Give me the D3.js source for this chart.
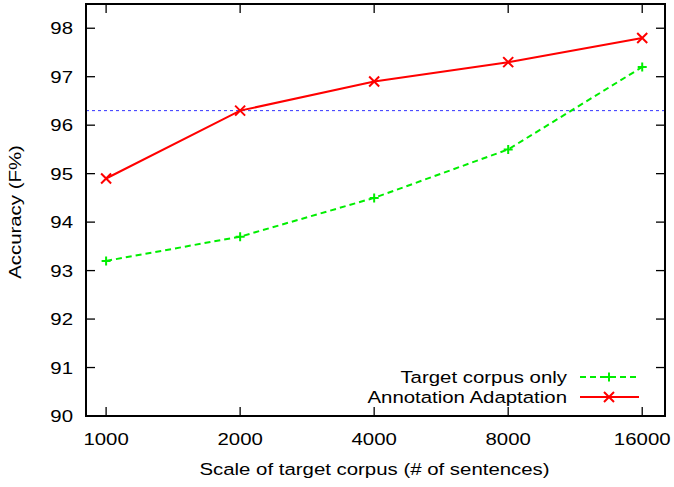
<!DOCTYPE html>
<html>
<head>
<meta charset="utf-8">
<script src="https://cdn.jsdelivr.net/npm/d3@7"></script>
<style>
  body { margin: 0; background: #fff; }
  text { font-family: "Liberation Sans", Arial, sans-serif; font-size: 17px; fill: #000; }
</style>
</head>
<body>
<div id="chart"></div>
<script>
const categories = ["1000", "2000", "4000", "8000", "16000"];
const targetOnly = [93.2, 93.7, 94.5, 95.5, 97.2];
const annotationAdaptation = [94.9, 96.3, 96.9, 97.3, 97.8];
const baseline = 96.3;
const yTicks = [90, 91, 92, 93, 94, 95, 96, 97, 98];

const width = 674, height = 487;
const margin = { top: 4, right: 9, bottom: 71, left: 86 };
const plotW = width - margin.left - margin.right;
const plotH = height - margin.top - margin.bottom;
const stretch = 1.2; // the source font is drawn wider than Arial

const svg = d3.select("#chart").append("svg")
    .attr("width", width)
    .attr("height", height);

const g = svg.append("g")
    .attr("transform", `translate(${margin.left},${margin.top})`);

const x = d3.scaleLinear().domain([-0.15, 4.17]).range([0, plotW]);
const y = d3.scaleLinear().domain([90, 98.5]).range([plotH, 0]);

// wide text helper
function label(sel, tx, ty, str, anchor, rot) {
    return sel.append("text")
        .attr("transform", `translate(${tx},${ty})${rot ? " rotate(" + rot + ")" : ""} scale(${stretch},1)`)
        .attr("text-anchor", anchor)
        .text(str);
}

const tickLen = 9;

yTicks.forEach(v => {
    g.append("line").attr("x1", 0).attr("x2", tickLen)
        .attr("y1", y(v)).attr("y2", y(v)).attr("stroke", "#000").attr("stroke-width", 1.3);
    g.append("line").attr("x1", plotW).attr("x2", plotW - tickLen)
        .attr("y1", y(v)).attr("y2", y(v)).attr("stroke", "#000").attr("stroke-width", 1.3);
    label(g, -13, y(v) + 6, v, "end");
});

categories.forEach((c, i) => {
    g.append("line").attr("x1", x(i)).attr("x2", x(i))
        .attr("y1", plotH).attr("y2", plotH - tickLen).attr("stroke", "#000").attr("stroke-width", 1.3);
    g.append("line").attr("x1", x(i)).attr("x2", x(i))
        .attr("y1", 0).attr("y2", tickLen).attr("stroke", "#000").attr("stroke-width", 1.3);
    label(g, x(i), 445 - margin.top, c, "middle");
});

// baseline
g.append("line")
    .attr("x1", 0).attr("x2", plotW)
    .attr("y1", y(baseline)).attr("y2", y(baseline))
    .attr("stroke", "#3333ff").attr("stroke-width", 1)
    .attr("stroke-dasharray", "3,3");

const line = d3.line().x((d, i) => x(i)).y(d => y(d));

g.append("path").datum(targetOnly)
    .attr("d", line).attr("fill", "none")
    .attr("stroke", "#00ee00").attr("stroke-width", 2)
    .attr("stroke-dasharray", "6,4");

g.append("path").datum(annotationAdaptation)
    .attr("d", line).attr("fill", "none")
    .attr("stroke", "#ff0000").attr("stroke-width", 2);

function plus(sel, cx, cy, color) {
    const s = 4.5;
    sel.append("path")
        .attr("d", `M${cx - s},${cy}H${cx + s}M${cx},${cy - s}V${cy + s}`)
        .attr("stroke", color).attr("stroke-width", 2).attr("fill", "none");
}
function cross(sel, cx, cy, color) {
    const s = 5;
    sel.append("path")
        .attr("d", `M${cx - s},${cy - s}L${cx + s},${cy + s}M${cx - s},${cy + s}L${cx + s},${cy - s}`)
        .attr("stroke", color).attr("stroke-width", 2).attr("fill", "none");
}

targetOnly.forEach((v, i) => plus(g, x(i), y(v), "#00ee00"));
annotationAdaptation.forEach((v, i) => cross(g, x(i), y(v), "#ff0000"));

// frame
g.append("rect").attr("x", 0).attr("y", 0).attr("width", plotW).attr("height", plotH)
    .attr("fill", "none").attr("stroke", "#000").attr("stroke-width", 2);

// legend
const legend = [
    { label: "Target corpus only", color: "#00ee00", dash: "6,4", mark: plus },
    { label: "Annotation Adaptation", color: "#ff0000", dash: null, mark: cross }
];
legend.forEach((d, i) => {
    const ly = 377 + i * 20 - margin.top;
    label(g, 567 - margin.left, ly + 6, d.label, "end");
    g.append("line").attr("x1", 580 - margin.left).attr("x2", 639 - margin.left)
        .attr("y1", ly).attr("y2", ly)
        .attr("stroke", d.color).attr("stroke-width", 2)
        .attr("stroke-dasharray", d.dash);
    d.mark(g, 609 - margin.left, ly, d.color);
});

// axis titles
label(svg, margin.left + plotW / 2 - 1, 475, "Scale of target corpus (# of sentences)", "middle");
label(svg, 21, 212, "Accuracy (F%)", "middle", -90);
</script>
</body>
</html>
